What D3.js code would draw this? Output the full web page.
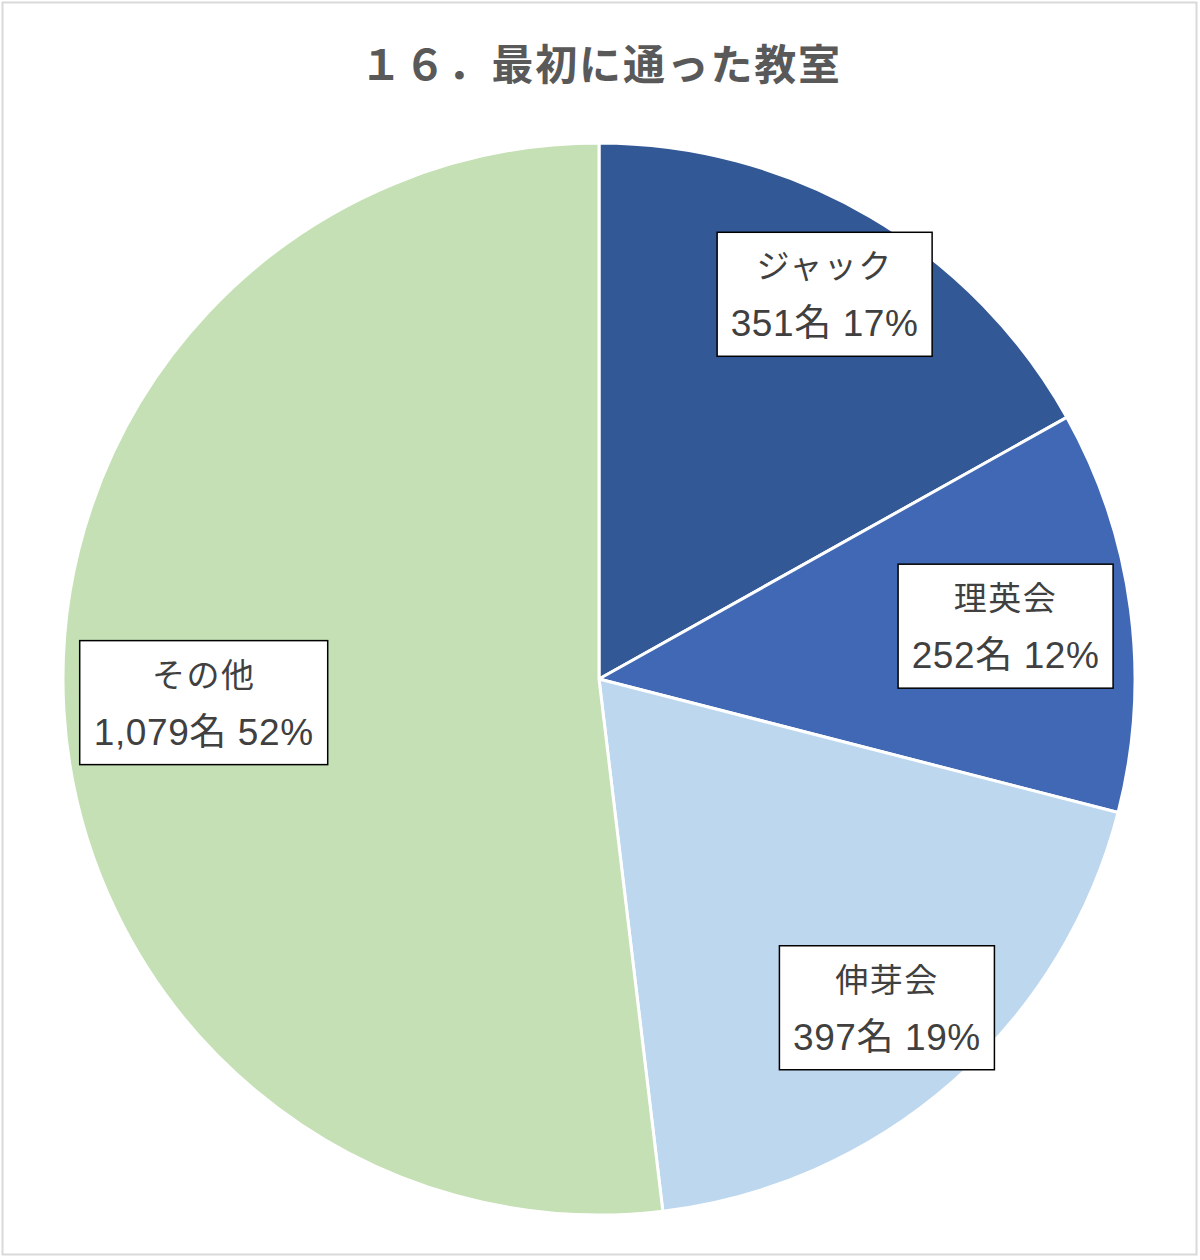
<!DOCTYPE html>
<html><head><meta charset="utf-8">
<script src="https://cdn.jsdelivr.net/npm/d3@7"></script>
<style>body{margin:0;background:#fff}</style>
</head><body>
<script>
const title = "１６．最初に通った教室";
const categories = ["ジャック","理英会","伸芽会","その他"];
const counts = [351,252,397,1079];
const percents = ["17%","12%","19%","52%"];
const countLabels = ["351名","252名","397名","1,079名"];
const colors = ["#335896","#4068b5","#bdd7ee","#c5e0b4"];

const W = 1200, H = 1260;
const cx = 599, cy = 679, R = 536;
const labelRadius = [446, 410, 437, 396];
const boxW = [215, 215, 215, 248], boxH = 124;

const svg = d3.select("body").append("svg").attr("width",W).attr("height",H);
svg.append("rect").attr("x",2.5).attr("y",2.5).attr("width",1194).attr("height",1252)
  .attr("fill","#fff").attr("stroke","#d9d9d9").attr("stroke-width",2);
svg.append("text").attr("x",601).attr("y",80).attr("text-anchor","middle")
  .attr("font-family","'Noto Sans CJK JP'").attr("font-weight","bold").attr("font-size",42)
  .attr("fill","#595959").attr("letter-spacing",1.8).text(title);

const pie = d3.pie().sort(null).value(d=>d)(counts);
const arc = d3.arc().innerRadius(0).outerRadius(R);
const g = svg.append("g").attr("transform",`translate(${cx},${cy})`);
g.selectAll("path").data(pie).join("path").attr("d",arc)
  .attr("fill",(d,i)=>colors[i]).attr("stroke","#fff").attr("stroke-width",3).attr("stroke-linejoin","round");

pie.forEach((d,i)=>{
  const la = d3.arc().innerRadius(labelRadius[i]).outerRadius(labelRadius[i]);
  const [x,y] = la.centroid(d);
  const lg = g.append("g").attr("transform",`translate(${x},${y})`);
  lg.append("rect").attr("x",-boxW[i]/2).attr("y",-boxH/2).attr("width",boxW[i]).attr("height",boxH)
    .attr("fill","#fff").attr("stroke","#000").attr("stroke-width",1.5);
  lg.append("text").attr("text-anchor","middle").attr("font-family","'Noto Sans CJK JP'")
    .attr("font-size",33).attr("letter-spacing",1.5).attr("fill","#404040")
    .attr("x",0).attr("y",-16).text(categories[i]);
  lg.append("text").attr("text-anchor","middle").attr("font-family","'Liberation Sans','Noto Sans CJK JP'")
    .attr("font-size",37).attr("letter-spacing",0.6).attr("fill","#404040")
    .attr("x",0).attr("y",42).text(countLabels[i]+" "+percents[i]);
});
</script>
</body></html>
